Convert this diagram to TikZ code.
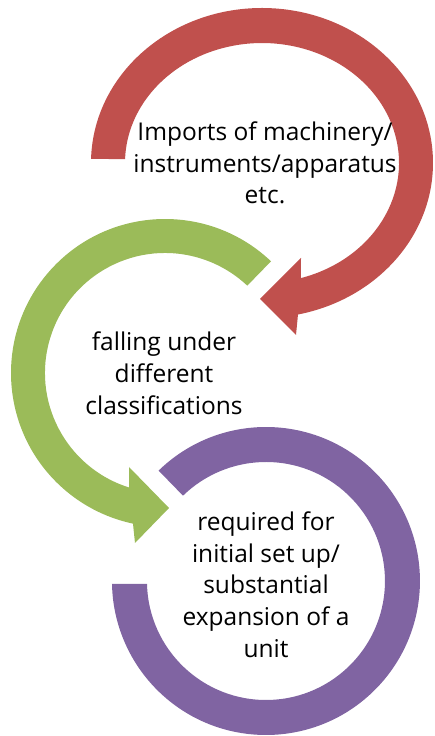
\documentclass[tikz,border=0pt]{standalone}
\usepackage{fontspec}
\setmainfont{Open Sans}
\definecolor{arrred}{HTML}{C0504D}
\definecolor{arrgreen}{HTML}{9BBB59}
\definecolor{arrpurple}{HTML}{8064A2}
\begin{document}
\begin{tikzpicture}[x=1pt,y=1pt,
  steptext/.style={align=center, inner sep=0pt, text=black,
    font=\fontsize{24.5}{31.75}\selectfont},
  ring/.style={draw=none}]
\useasboundingbox (0,0) rectangle (434,736);
% red arrow (top)
\fill[arrred, ring] (91.06,577.06)
  arc[start angle=178.5, end angle=-77.85, x radius=171pt, y radius=155pt]
  -- (296,401) -- (260,437) -- (301,478) -- (300.9,457.9)
  arc[start angle=-73.5, end angle=178.1, x radius=137pt, y radius=120pt]
  -- cycle;
% green arrow (middle)
\fill[arrgreen, ring] (271.0,474.7)
  arc[start angle=46.5, end angle=258, radius=154pt]
  -- (135,193) -- (169,228) -- (129,269) -- (129.1,248.5)
  arc[start angle=252.6, end angle=46.7, radius=120pt]
  -- cycle;
% purple ring (bottom)
\fill[arrpurple, ring] (158.6,265.4)
  arc[start angle=134.2, end angle=-178.9, radius=154pt]
  -- (147.0,152.1)
  arc[start angle=-178.6, end angle=134.2, radius=119pt]
  -- cycle;
\node[steptext] (t1) at (265,573) {Imports of machinery/\\instruments/apparatus\\etc.};
\node[steptext] (t2) at (164,362.5) {falling under\\different\\classifications};
\node[steptext] (t3) at (266,151.5) {required for\\initial set up/\\substantial\\expansion of a\\unit};
\end{tikzpicture}
\end{document}
